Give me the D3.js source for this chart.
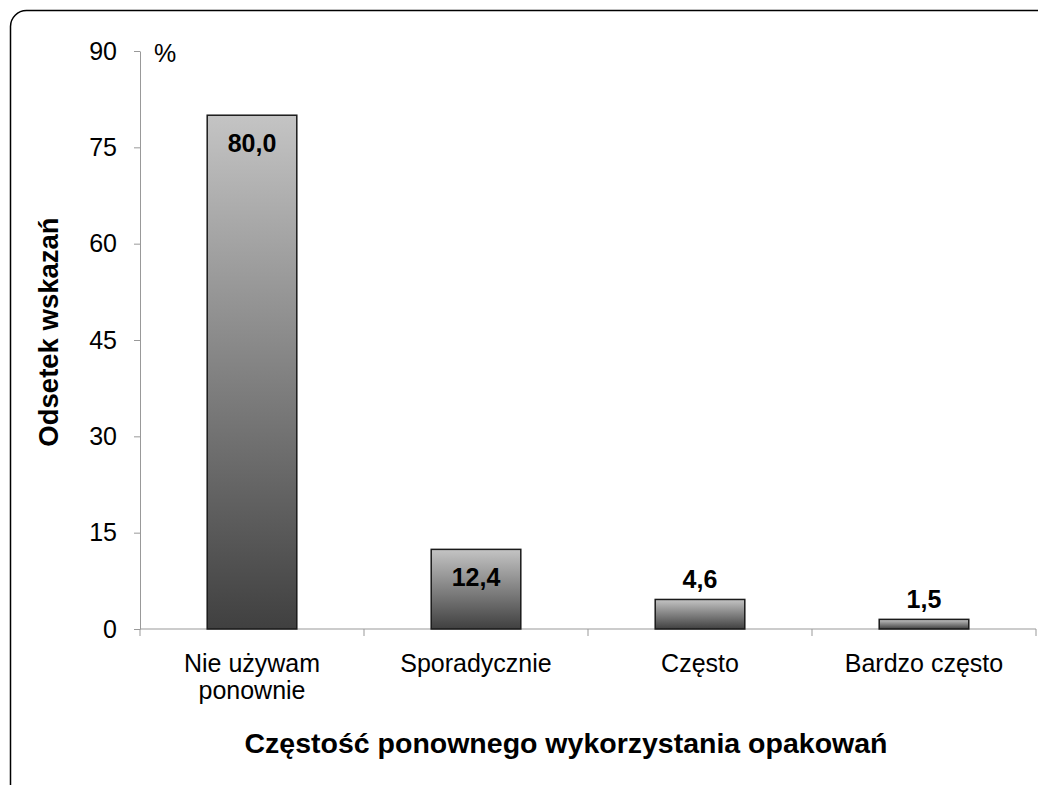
<!DOCTYPE html>
<html>
<head>
<meta charset="utf-8">
<script src="https://cdn.jsdelivr.net/npm/d3@7"></script>
<style>
  body { margin: 0; background: #fff; }
  svg { display: block; font-family: "Liberation Sans", Arial, sans-serif; }
</style>
</head>
<body>
<svg id="chart" width="1038" height="785"></svg>
<script>
const categories = ['Nie używam ponownie', 'Sporadycznie', 'Często', 'Bardzo często'];
const values = [80.0, 12.4, 4.6, 1.5];
const yTicks = [0, 15, 30, 45, 60, 75, 90];

const svg = d3.select('#chart');
const margin = { left: 140, right: 2, top: 51, bottom: 156 };
const width = 1038, height = 785;

// outer frame
svg.append('rect')
    .attr('x', 10.5).attr('y', 10.5)
    .attr('width', 1060).attr('height', 800)
    .attr('rx', 16).attr('ry', 16)
    .attr('fill', 'none').attr('stroke', '#000').attr('stroke-width', 1.5);

const defs = svg.append('defs');
const grad = defs.append('linearGradient')
    .attr('id', 'barGrad')
    .attr('x1', 0).attr('y1', 0).attr('x2', 0).attr('y2', 1);
grad.append('stop').attr('offset', '0%').attr('stop-color', '#c4c4c4');
grad.append('stop').attr('offset', '100%').attr('stop-color', '#404040');

const x = d3.scaleBand()
    .domain(categories)
    .range([margin.left, width - margin.right])
    .paddingInner(0.6).paddingOuter(0.3);

const y = d3.scaleLinear()
    .domain([0, 90])
    .range([height - margin.bottom, margin.top]);

// y axis
const yAxis = svg.append('g')
    .attr('transform', `translate(${margin.left},0)`)
    .call(d3.axisLeft(y).tickValues(yTicks).tickSize(6).tickPadding(17).tickSizeOuter(0));
yAxis.select('.domain').attr('stroke', '#999');
yAxis.selectAll('.tick line').attr('stroke', '#999');
yAxis.selectAll('.tick text')
    .attr('font-size', 25).attr('fill', '#000')
    .attr('font-family', '"Liberation Sans", Arial, sans-serif');

// x axis line with category separators
const x0 = y(0);
svg.append('line')
    .attr('x1', margin.left).attr('x2', width - margin.right)
    .attr('y1', x0).attr('y2', x0)
    .attr('stroke', '#999');
const seps = d3.range(categories.length + 1).map(i => margin.left + i * (width - margin.right - margin.left) / categories.length);
svg.selectAll('.sep').data(seps).join('line')
    .attr('x1', d => d).attr('x2', d => d)
    .attr('y1', x0).attr('y2', x0 + 7)
    .attr('stroke', '#999');

// bars
svg.selectAll('.bar').data(values).join('rect')
    .attr('class', 'bar')
    .attr('x', (d, i) => x(categories[i]))
    .attr('y', d => y(d))
    .attr('width', x.bandwidth())
    .attr('height', d => y(0) - y(d))
    .attr('fill', 'url(#barGrad)')
    .attr('stroke', '#1a1a1a').attr('stroke-width', 1.5);

// value labels
svg.selectAll('.val').data(values).join('text')
    .attr('x', (d, i) => x(categories[i]) + x.bandwidth() / 2)
    .attr('y', d => d > 10 ? y(d) + 37 : y(d) - 11)
    .attr('text-anchor', 'middle')
    .attr('font-size', 25).attr('font-weight', 'bold')
    .text(d => d.toFixed(1).replace('.', ','));

// category labels
const catLines = { 'Nie używam ponownie': ['Nie używam', 'ponownie'] };
categories.forEach(c => {
    const lines = catLines[c] || [c];
    const t = svg.append('text')
        .attr('text-anchor', 'middle')
        .attr('font-size', 25)
        .attr('x', x(c) + x.bandwidth() / 2)
        .attr('y', x0 + 43);
    lines.forEach((l, i) => {
        t.append('tspan')
            .attr('x', x(c) + x.bandwidth() / 2)
            .attr('dy', i === 0 ? 0 : 27)
            .text(l);
    });
});

// unit
svg.append('text')
    .attr('x', 154).attr('y', 62)
    .attr('font-size', 25)
    .text('%');

// axis titles
svg.append('text')
    .attr('transform', `translate(58,${(y(0) + y(90)) / 2 - 8}) rotate(-90)`)
    .attr('text-anchor', 'middle')
    .attr('font-size', 27.5).attr('font-weight', 'bold')
    .text('Odsetek wskazań');

svg.append('text')
    .attr('x', (margin.left + width - margin.right) / 2 - 22)
    .attr('y', 753)
    .attr('text-anchor', 'middle')
    .attr('font-size', 28.5).attr('font-weight', 'bold')
    .text('Częstość ponownego wykorzystania opakowań');
</script>
</body>
</html>
